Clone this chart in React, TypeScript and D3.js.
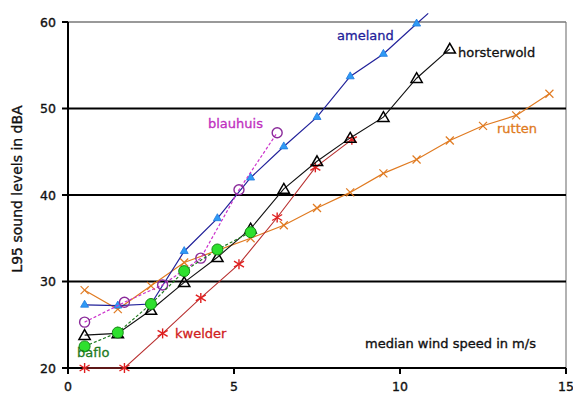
import React from "react";
import * as d3 from "d3";

const amelandX = [0.5, 1.5, 2.5, 3.5, 4.5, 5.5, 6.5, 7.5, 8.5, 9.5, 10.5, 10.85];
const amelandY = [27.3, 27.2, 27.4, 33.5, 37.3, 42.0, 45.6, 49.0, 53.7, 56.3, 59.8, 61.0];
const horsterwoldX = [0.5, 1.5, 2.5, 3.5, 4.5, 5.5, 6.5, 7.5, 8.5, 9.5, 10.5, 11.5];
const horsterwoldY = [23.8, 24.0, 26.7, 29.9, 32.8, 36.1, 40.7, 43.9, 46.6, 49.0, 53.5, 56.9];
const kwelderX = [0.5, 1.7, 2.85, 4.0, 5.15, 6.3, 7.45, 8.55];
const kwelderY = [20, 20, 24.0, 28.1, 32.0, 37.4, 43.2, 46.4];
const ruttenX = [0.5, 1.5, 2.5, 3.5, 4.5, 5.5, 6.5, 7.5, 8.5, 9.5, 10.5, 11.5, 12.5, 13.5, 14.5];
const ruttenY = [29.0, 26.8, 29.5, 32.2, 33.6, 35.0, 36.5, 38.5, 40.3, 42.5, 44.1, 46.3, 48.0, 49.2, 51.7];
const blauhuisX = [0.5, 1.7, 2.85, 4.0, 5.15, 6.3];
const blauhuisY = [25.3, 27.6, 29.6, 32.7, 40.6, 47.2];
const bafloX = [0.5, 1.5, 2.5, 3.5, 4.5, 5.5];
const bafloY = [22.5, 24.1, 27.4, 31.2, 33.7, 35.7];

const xTicks = [0, 5, 10, 15];
const yTicks = [20, 30, 40, 50, 60];
const yTitle = "L95 sound levels in dBA";
const xTitle = "median wind speed in m/s";

const W = 573, H = 398;
const x = d3.scaleLinear().domain([0, 15]).range([68, 566]);
const y = d3.scaleLinear().domain([20, 60]).range([368, 22]);

type P = [number, number];
const pts = (xs: number[], ys: number[]): P[] => xs.map((v, i) => [v, ys[i]]);
const line = d3.line<P>().x(d => x(d[0])).y(d => y(d[1]));

const font = "'DejaVu Sans', Verdana, sans-serif";

function Markers({ data, kind }: { data: P[]; kind: string }) {
  return (
    <g>
      {data.filter(d => d[1] <= 60.01).map((d, i) => {
        const cx = x(d[0]), cy = y(d[1]);
        if (kind === "triFill") {
          const p = d3.symbol(d3.symbolTriangle, 28)();
          return <path key={i} d={p!} transform={`translate(${cx},${cy})`} fill="#2f9af5" stroke="#1f7ae0" strokeWidth={0.8} />;
        }
        if (kind === "triOpen") {
          const p = d3.symbol(d3.symbolTriangle, 55)();
          return <path key={i} d={p!} transform={`translate(${cx},${cy + 1})`} fill="none" stroke="#000" strokeWidth={1.5} />;
        }
        if (kind === "star") {
          const r = 5;
          return (
            <g key={i} stroke="#e02020" strokeWidth={1.4}>
              <line x1={cx} y1={cy - r} x2={cx} y2={cy + r} />
              <line x1={cx - r} y1={cy - r * 0.6} x2={cx + r} y2={cy + r * 0.6} />
              <line x1={cx - r} y1={cy + r * 0.6} x2={cx + r} y2={cy - r * 0.6} />
            </g>
          );
        }
        if (kind === "cross") {
          const r = 4;
          return (
            <g key={i} stroke="#e07a20" strokeWidth={1.2}>
              <line x1={cx - r} y1={cy - r} x2={cx + r} y2={cy + r} />
              <line x1={cx - r} y1={cy + r} x2={cx + r} y2={cy - r} />
            </g>
          );
        }
        if (kind === "circleOpen") {
          return <circle key={i} cx={cx} cy={cy} r={5} fill="none" stroke="#8a2a9a" strokeWidth={1.4} />;
        }
        return <circle key={i} cx={cx} cy={cy} r={5.5} fill="#2ee02e" stroke="#138a13" strokeWidth={1} />;
      })}
    </g>
  );
}

export default function App() {
  const series = [
    { data: pts(ruttenX, ruttenY), color: "#e07a20", dash: undefined, kind: "cross", w: 1.2 },
    { data: pts(kwelderX, kwelderY), color: "#b83030", dash: undefined, kind: "star", w: 1.1 },
    { data: pts(horsterwoldX, horsterwoldY), color: "#111", dash: undefined, kind: "triOpen", w: 1.1 },
    { data: pts(amelandX, amelandY), color: "#22229a", dash: undefined, kind: "triFill", w: 1.2 },
    { data: pts(blauhuisX, blauhuisY), color: "#cc33cc", dash: "3,2", kind: "circleOpen", w: 1.2 },
    { data: pts(bafloX, bafloY), color: "#1e7a1e", dash: "3,2", kind: "fill", w: 1.2 },
  ];
  const heavy = { stroke: "#111", strokeWidth: 0.35 };
  return (
    <svg width={W} height={H} style={{ position: "absolute", left: 0, top: 0, background: "#fff" }}>
      <line x1={x(15)} y1={y(60)} x2={x(15)} y2={y(20)} stroke="#999" strokeWidth={1.5} />
      <line x1={x(0)} y1={y(60)} x2={x(15)} y2={y(60)} stroke="#777" strokeWidth={1.5} />
      {yTicks.filter(t => t > 20 && t < 60).map(t => (
        <line key={t} x1={x(0)} y1={y(t)} x2={x(15)} y2={y(t)} stroke="#000" strokeWidth={2} />
      ))}
      <line x1={x(0)} y1={y(60)} x2={x(0)} y2={y(20)} stroke="#000" strokeWidth={2} />
      <line x1={x(0)} y1={y(20)} x2={x(15)} y2={y(20)} stroke="#000" strokeWidth={2} />
      {yTicks.map(t => (
        <g key={t}>
          <line x1={x(0) - 6} y1={y(t)} x2={x(0)} y2={y(t)} stroke="#000" strokeWidth={2} />
          <text x={56} y={y(t) + 4.5} textAnchor="end" fontFamily={font} fontSize={12.5} fill="#111" {...heavy}>{t}</text>
        </g>
      ))}
      {xTicks.map(t => (
        <g key={t}>
          <line x1={x(t)} y1={y(20)} x2={x(t)} y2={y(20) + 6} stroke="#000" strokeWidth={2} />
          <text x={x(t)} y={391} textAnchor="middle" fontFamily={font} fontSize={12.5} fill="#111" {...heavy}>{t}</text>
        </g>
      ))}
      <text transform="translate(22,189) rotate(-90)" textAnchor="middle" fontFamily={font} fontSize={14} fill="#111" {...heavy}>{yTitle}</text>
      <text x={365} y={348} fontFamily={font} fontSize={13} fill="#111" {...heavy}>{xTitle}</text>

      {series.map((s, i) => (
        <g key={i}>
          <path d={line(s.data)!} fill="none" stroke={s.color} strokeWidth={s.w} strokeDasharray={s.dash} />
          <Markers data={s.data} kind={s.kind} />
        </g>
      ))}

      <text x={337} y={40} fontFamily={font} fontSize={13} fill="#22229a" stroke="#22229a" strokeWidth={0.3}>ameland</text>
      <text x={458} y={57} fontFamily={font} fontSize={13} fill="#111" stroke="#111" strokeWidth={0.3}>horsterwold</text>
      <text x={497} y={133} fontFamily={font} fontSize={13} fill="#e07a20" stroke="#e07a20" strokeWidth={0.3}>rutten</text>
      <text x={208} y={128} fontFamily={font} fontSize={13} fill="#c030c0" stroke="#c030c0" strokeWidth={0.3}>blauhuis</text>
      <text x={175} y={338} fontFamily={font} fontSize={13} fill="#d02020" stroke="#d02020" strokeWidth={0.3}>kwelder</text>
      <text x={77} y={357} fontFamily={font} fontSize={13} fill="#1e7a1e" stroke="#1e7a1e" strokeWidth={0.3}>baflo</text>
    </svg>
  );
}
